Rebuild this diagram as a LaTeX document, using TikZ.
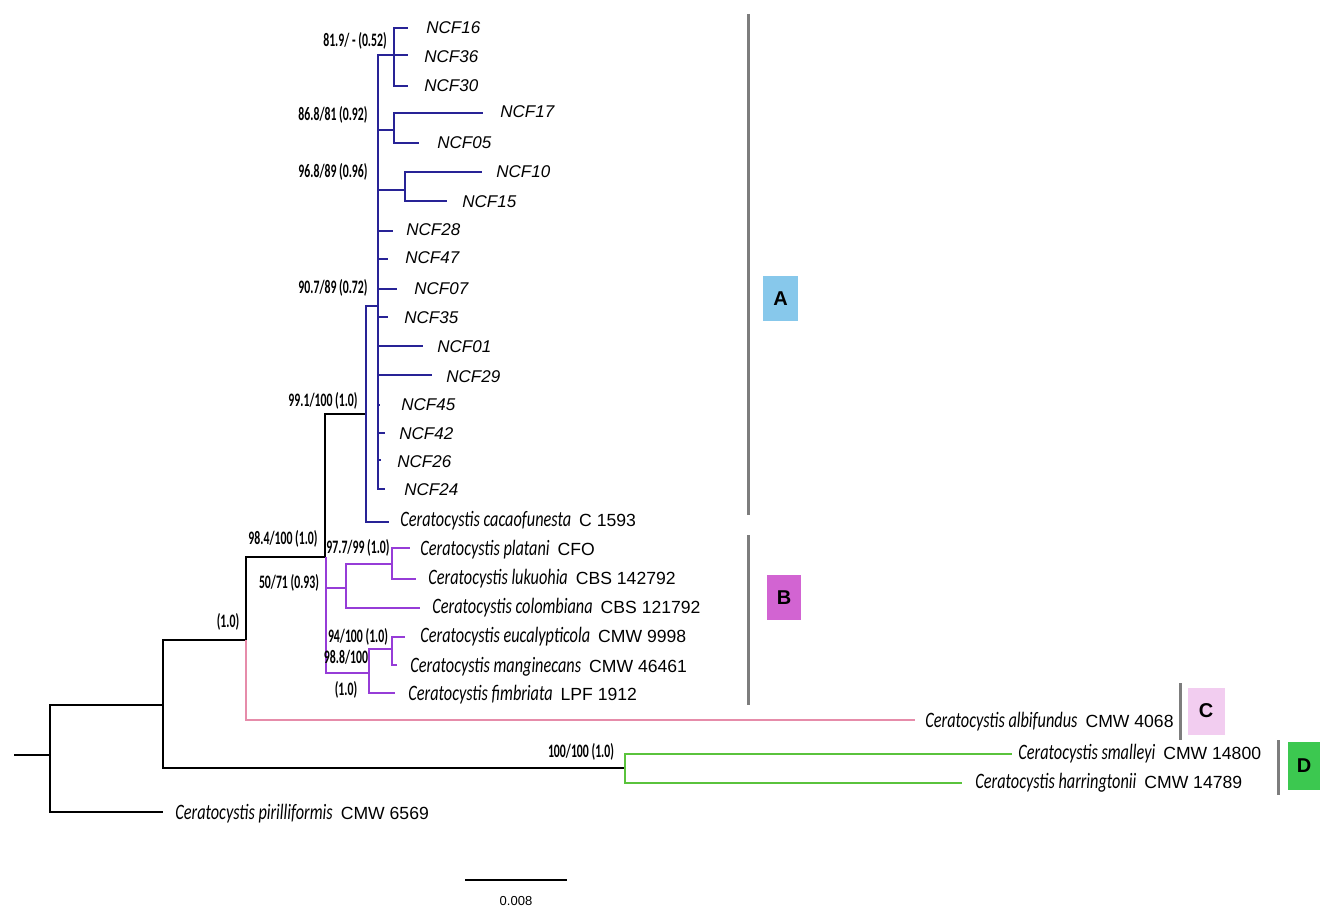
\documentclass[tikz,border=0pt]{standalone}
\usepackage{fontspec}
\setmainfont{Liberation Sans}
\newfontfamily\spfont[FakeStretch=0.74]{Carlito}
\newfontfamily\bsfont[FakeStretch=0.62]{Carlito}
\definecolor{cladeA}{RGB}{40,35,150}
\definecolor{cladeB}{RGB}{150,60,215}
\definecolor{cladeC}{RGB}{230,140,170}
\definecolor{cladeD}{RGB}{90,195,60}
\definecolor{boxA}{RGB}{135,200,235}
\definecolor{boxB}{RGB}{210,100,210}
\definecolor{boxC}{RGB}{242,205,240}
\definecolor{boxD}{RGB}{60,200,80}
\definecolor{barcol}{RGB}{125,125,125}
\newcommand{\taxon}[2]{{\fontsize{11}{13}\spfont\itshape #1}\hspace{4pt}#2}

\begin{document}
\begin{tikzpicture}[x=0.5pt, y=-0.5pt,
    branch/.style={line width=1.4pt},
    ncflab/.style={anchor=west, inner sep=0pt, font=\fontsize{8.5}{10}\selectfont\itshape},
    taxlab/.style={anchor=west, inner sep=0pt, font=\fontsize{8.8}{10}\selectfont},
    support/.style={inner sep=0pt, font=\fontsize{9.5}{11}\bsfont\bfseries},
    cladebar/.style={barcol, line width=1.5pt},
    cladebox/.style={inner sep=0pt, font=\fontsize{10}{12}\selectfont\bfseries}]
    \useasboundingbox (0,0) rectangle (1320,908);
    % Internal nodes
    \coordinate (root) at (14,755);
    \coordinate (n0) at (50,755);
    \coordinate (n1) at (163,705);
    \coordinate (nabc) at (246,640);
    \coordinate (nab) at (325,557);
    \coordinate (na) at (366,414);
    \coordinate (nncf) at (378,306);
    \coordinate (nsub1) at (394,55);
    \coordinate (nsub2) at (394,130);
    \coordinate (nsub3) at (405,190);
    \coordinate (nb) at (326,557);
    \coordinate (nb1) at (346,588);
    \coordinate (nb2) at (369,673);
    \coordinate (npl) at (392,564);
    \coordinate (neu) at (392,649);
    \coordinate (nd) at (625,768);
    % Tips
    \coordinate (tpir) at (163,812);
    \coordinate (talb) at (915,720);
    \coordinate (tsma) at (1012,754);
    \coordinate (thar) at (962,783);
    \coordinate (tcac) at (389,522);
    \coordinate (tpla) at (410,548);
    \coordinate (tluk) at (416,579);
    \coordinate (tcol) at (420,608);
    \coordinate (teuc) at (405,637);
    \coordinate (tman) at (397,665);
    \coordinate (tfim) at (395,693);
    % Backbone
    \draw[branch] (root) -- (n0);
    \draw[branch] (n0) |- (n1);
    \draw[branch] (n0) |- (tpir);
    \draw[branch] (n1) |- (nabc);
    \draw[branch] (n1) |- (nd);
    \draw[branch] (nabc) |- (nab);
    \draw[branch] (nab) |- (na);
    \draw[branch,cladeC] (nabc) |- (talb);
    \draw[branch,cladeD] (nd) |- (tsma);
    \draw[branch,cladeD] (nd) |- (thar);
    % Clade A
    \draw[branch,cladeA] (na) |- (nncf);
    \draw[branch,cladeA] (na) |- (tcac);
    \draw[branch,cladeA] (nncf) |- (nsub1);
    \draw[branch,cladeA] (nncf) |- (nsub2);
    \draw[branch,cladeA] (nncf) |- (nsub3);
    \foreach \id/\tx/\ty/\lx/\ly/\nd in {16/408/28/426/28/nsub1, 36/408/55/424/57/nsub1,
        30/408/86/424/86/nsub1, 17/483/113/500/112/nsub2, 05/419/143/437/143/nsub2,
        10/482/172/496/172/nsub3, 15/447/201/462/202/nsub3, 28/393/231/406/230/nncf,
        47/388/259/405/258/nncf, 07/397/289/414/289/nncf, 35/388/317/404/318/nncf,
        01/423/346/437/347/nncf, 29/432/375/446/377/nncf, 45/380/405/401/405/nncf,
        42/385/433/399/434/nncf, 26/381/460/397/462/nncf, 24/385/489/404/490/nncf} {
      \coordinate (t\id) at (\tx,\ty);
      \draw[branch,cladeA] (\nd) |- (t\id);
      \node[ncflab] (l\id) at (\lx,\ly) {NCF\id};
    }
    % Clade B
    \draw[branch,cladeB] (nb) |- (nb1);
    \draw[branch,cladeB] (nb) |- (nb2);
    \draw[branch,cladeB] (nb1) |- (npl);
    \draw[branch,cladeB] (nb1) |- (tcol);
    \draw[branch,cladeB] (npl) |- (tpla);
    \draw[branch,cladeB] (npl) |- (tluk);
    \draw[branch,cladeB] (nb2) |- (neu);
    \draw[branch,cladeB] (nb2) |- (tfim);
    \draw[branch,cladeB] (neu) |- (teuc);
    \draw[branch,cladeB] (neu) |- (tman);
    % Taxon labels
    \node[taxlab] (lcac) at (400,521) {\taxon{Ceratocystis cacaofunesta}{C 1593}};
    \node[taxlab] (lpla) at (420,550) {\taxon{Ceratocystis platani}{CFO}};
    \node[taxlab] (lluk) at (428,579) {\taxon{Ceratocystis lukuohia}{CBS 142792}};
    \node[taxlab] (lcol) at (432,608) {\taxon{Ceratocystis colombiana}{CBS 121792}};
    \node[taxlab] (leuc) at (420,637) {\taxon{Ceratocystis eucalypticola}{CMW 9998}};
    \node[taxlab] (lman) at (410,667) {\taxon{Ceratocystis manginecans}{CMW 46461}};
    \node[taxlab] (lfim) at (408,695) {\taxon{Ceratocystis fimbriata}{LPF 1912}};
    \node[taxlab] (lalb) at (925,722) {\taxon{Ceratocystis albifundus}{CMW 4068}};
    \node[taxlab] (lsma) at (1018,754) {\taxon{Ceratocystis smalleyi}{CMW 14800}};
    \node[taxlab] (lhar) at (975,783) {\taxon{Ceratocystis harringtonii}{CMW 14789}};
    \node[taxlab] (lpir) at (175,814) {\taxon{Ceratocystis pirilliformis}{CMW 6569}};
    % Support values
    \node[support] (bs819) at (355,41) {81.9/ - (0.52)};
    \node[support] (bs868) at (333,115) {86.8/81 (0.92)};
    \node[support] (bs968) at (333,172) {96.8/89 (0.96)};
    \node[support] (bs907) at (333,288) {90.7/89 (0.72)};
    \node[support] (bs991) at (323,401) {99.1/100 (1.0)};
    \node[support] (bs984) at (283,539) {98.4/100 (1.0)};
    \node[support] (bs977) at (358,548) {97.7/99 (1.0)};
    \node[support] (bs50) at (289,583) {50/71 (0.93)};
    \node[support] (bs94) at (358,637) {94/100 (1.0)};
    \node[support] (bs988) at (346,657) {98.8/100};
    \node[support] (bs988b) at (346,690) {(1.0)};
    \node[support] (bsabc) at (228,622) {(1.0)};
    \node[support] (bsd) at (581,752) {100/100 (1.0)};
    % Clade bars and boxes
    \draw[cladebar] (748,14) -- (748,515);
    \draw[cladebar] (748,535) -- (748,705);
    \draw[cladebar] (1180,683) -- (1180,740);
    \draw[cladebar] (1278,740) -- (1278,795);
    \node[cladebox, fill=boxA, minimum width=17.5pt, minimum height=22.5pt] (boxa) at (780.5,298.5) {A};
    \node[cladebox, fill=boxB, minimum width=17pt, minimum height=22.5pt] (boxb) at (784,597.5) {B};
    \node[cladebox, fill=boxC, minimum width=18.5pt, minimum height=23.5pt] (boxc) at (1206,711) {C};
    \node[cladebox, fill=boxD, minimum width=16pt, minimum height=24pt] (boxd) at (1304,766) {D};
    % Scale bar
    \coordinate (sb1) at (465,880);
    \coordinate (sb2) at (567,880);
    \draw[line width=1.2pt] (sb1) -- (sb2);
    \node[font=\fontsize{6.5}{8}\selectfont, inner sep=0pt] (sblab) at (516,901) {0.008};
\end{tikzpicture}
\end{document}
